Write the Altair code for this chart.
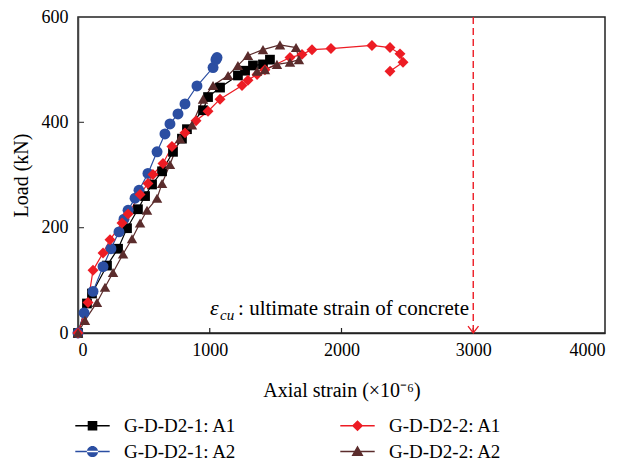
import altair as alt
import pandas as pd

series_names = ["G-D-D2-1: A1", "G-D-D2-1: A2", "G-D-D2-2: A1", "G-D-D2-2: A2"]
series_colors = ["#000000", "#2B4EA2", "#ED1C24", "#5B2C2C"]

# G-D-D2-1: A1 (black squares)
black_strain = [0, 68, 106, 220, 304, 372, 455, 509, 562, 638, 721, 789, 827, 949, 987, 1078, 1214, 1268, 1328, 1404, 1457]
black_load = [0, 56, 75, 128, 160, 199, 235, 260, 282, 307, 344, 369, 387, 423, 448, 466, 489, 498, 508, 510, 519]

# G-D-D2-1: A2 (blue circles)
blue_strain = [0, 46, 114, 190, 250, 311, 349, 380, 433, 463, 531, 600, 660, 698, 759, 812, 903, 1025, 1047, 1055]
blue_load = [0, 38, 79, 126, 160, 192, 216, 233, 256, 271, 303, 344, 378, 397, 416, 435, 469, 504, 519, 523]

# G-D-D2-2: A1 (red diamonds)
red_strain = [0, 76, 114, 190, 243, 334, 380, 471, 531, 569, 645, 713, 812, 896, 987, 1078, 1245, 1290, 1359, 1419,
              1609, 1700, 1776, 1920, 2231, 2368, 2444, 2467, 2368]
red_load = [0, 58, 119, 152, 177, 209, 226, 263, 284, 301, 322, 354, 380, 403, 421, 444, 470, 480, 491, 500,
            523, 529, 538, 540, 546, 542, 530, 514, 497]

# G-D-D2-2: A2 (brown triangles)
brown_strain = [0, 53, 144, 205, 266, 342, 410, 471, 524, 600, 638, 698, 774, 865, 949, 1025, 1139, 1214, 1290, 1404,
                1533, 1655, 1677, 1609, 1510, 1419, 1359]
brown_load = [0, 24, 58, 87, 115, 150, 179, 209, 233, 256, 284, 320, 369, 395, 444, 470, 489, 508, 527, 538,
              547, 542, 519, 514, 510, 500, 497]

x_ticks = [0, 1000, 2000, 3000, 4000]
y_ticks = [0, 200, 400, 600]
ultimate_strain = 3000

rows = []
for name, xs, ys in [
    ("G-D-D2-1: A1", black_strain, black_load),
    ("G-D-D2-1: A2", blue_strain, blue_load),
    ("G-D-D2-2: A1", red_strain, red_load),
    ("G-D-D2-2: A2", brown_strain, brown_load),
]:
    for i, (sx, ly) in enumerate(zip(xs, ys)):
        rows.append({"series": name, "strain": sx, "load": ly, "idx": i})
df = pd.DataFrame(rows)

FONT = "Liberation Serif"
RED = "#ED1C24"
PLOT_H = 316
color_of = dict(zip(series_names, series_colors))

X = alt.X("strain:Q", scale=alt.Scale(domain=[0, 4000], nice=False),
          axis=alt.Axis(values=x_ticks, format="d", title="Axial strain (×10⁻⁶)", grid=False, ticks=False,
                        labelPadding=8, labelFontSize=18, titleFontSize=20, titlePadding=21,
                        labelFont=FONT, titleFont=FONT, titleFontWeight="normal",
                        domainColor="#222", domainWidth=1.5, labelColor="#000", titleColor="#000"))
Y = alt.Y("load:Q", scale=alt.Scale(domain=[0, 600], nice=False),
          axis=alt.Axis(values=y_ticks, format="d", title="Load (kN)", grid=False, ticks=False,
                        labelPadding=10, labelFontSize=18, titleFontSize=20, titlePadding=10,
                        labelFont=FONT, titleFont=FONT, titleFontWeight="normal",
                        domainColor="#444", domainWidth=1.5, labelColor="#000", titleColor="#000"))

base = alt.Chart(df)

marker_spec = [
    ("G-D-D2-1: A1", "square", 95),
    ("G-D-D2-1: A2", "circle", 120),
    ("G-D-D2-2: A1", "diamond", 120),
    ("G-D-D2-2: A2", "triangle-up", 110),
]
line_layers = []
point_layers = []
for name, shp, sz in marker_spec:
    sub_df = base.transform_filter(alt.datum.series == name)
    line_layers.append(
        sub_df.mark_line(strokeWidth=1.2, color=color_of[name]).encode(x=X, y=Y, order="idx:Q")
    )
    point_layers.append(
        sub_df.mark_point(shape=shp, filled=True, size=sz, opacity=1, color=color_of[name]).encode(x=X, y=Y)
    )

# legend-only layer: custom symbols = line segment + marker
seg = "M-2.15,-0.09H2.15V0.09H-2.15Z"
legend_paths = [
    seg + "M-0.6,-0.6H0.6V0.6H-0.6Z",
    seg + "M-0.7,0A0.7,0.7 0 1,0 0.7,0A0.7,0.7 0 1,0 -0.7,0Z",
    seg + "M0,-0.7L0.7,0L0,0.7L-0.7,0Z",
    seg + "M0,-0.75L0.75,0.55L-0.75,0.55Z",
]
leg_df = pd.DataFrame({"series": series_names, "strain": [-1000] * 4, "load": [0] * 4})
legend_props = dict(orient="none", legendX=5, legendY=399, columns=2, columnPadding=103, rowPadding=6,
                    title=None, padding=0, labelFont=FONT, labelFontSize=19, labelColor="#000",
                    labelOffset=22, symbolSize=256, symbolStrokeWidth=0)
legend_layer = alt.Chart(leg_df).mark_point(filled=True, size=256, opacity=1, clip=True).encode(
    x=X, y=Y,
    color=alt.Color("series:N", scale=alt.Scale(domain=series_names, range=series_colors),
                    legend=alt.Legend(**legend_props)),
    shape=alt.Shape("series:N", scale=alt.Scale(domain=series_names, range=legend_paths),
                    legend=alt.Legend(**legend_props)),
)

# ultimate strain line
ecu_df = pd.DataFrame({"strain": [ultimate_strain], "top": [600], "bottom": [0]})
ecu_rule = alt.Chart(ecu_df).mark_rule(color=RED, strokeDash=[7, 4], strokeWidth=1.4).encode(
    x=X, y=alt.Y("top:Q"), y2="bottom:Q")
ecu_arrow = alt.Chart(ecu_df).mark_point(shape="M-1,-1.3L0,0L1,-1.3", size=110, stroke=RED,
                                         strokeWidth=1.3, filled=False, opacity=1).encode(
    x=X, y=alt.Y("bottom:Q"))

# inward tick marks
xt_df = pd.DataFrame({"strain": x_ticks[1:-1]})
x_tick_marks = alt.Chart(xt_df).mark_rule(color="#222", strokeWidth=1.2).encode(
    x=X, y=alt.value(PLOT_H), y2=alt.value(PLOT_H - 5))
yt_df = pd.DataFrame({"load": y_ticks[1:-1]})
y_tick_marks = alt.Chart(yt_df).mark_rule(color="#444", strokeWidth=1.2).encode(
    y=Y, x=alt.value(0), x2=alt.value(6))

# annotation
eps = alt.Chart(pd.DataFrame({"strain": [1002], "load": [34], "t": ["ε"]})).mark_text(
    font=FONT, fontSize=22, fontStyle="italic", align="left", baseline="alphabetic", color="#000"
).encode(x=X, y=Y, text="t:N")
sub = alt.Chart(pd.DataFrame({"strain": [1078], "load": [25], "t": ["cu"]})).mark_text(
    font=FONT, fontSize=15, fontStyle="italic", align="left", baseline="alphabetic", color="#000"
).encode(x=X, y=Y, text="t:N")
ann = alt.Chart(pd.DataFrame({"strain": [1215], "load": [34], "t": [": ultimate strain of concrete"]})).mark_text(
    font=FONT, fontSize=21, align="left", baseline="alphabetic", color="#000"
).encode(x=X, y=Y, text="t:N")

chart = alt.layer(
    x_tick_marks, y_tick_marks, ecu_rule, ecu_arrow, *line_layers, *point_layers, legend_layer, eps, sub, ann
).properties(
    width=527, height=PLOT_H,
    autosize=alt.AutoSizeParams(type="none"),
    padding={"left": 70, "top": 9, "right": 10, "bottom": 127},
).configure_view(stroke="#222", strokeWidth=1.5)

chart.save("out.html", embed_options={"renderer": "svg", "actions": False})
